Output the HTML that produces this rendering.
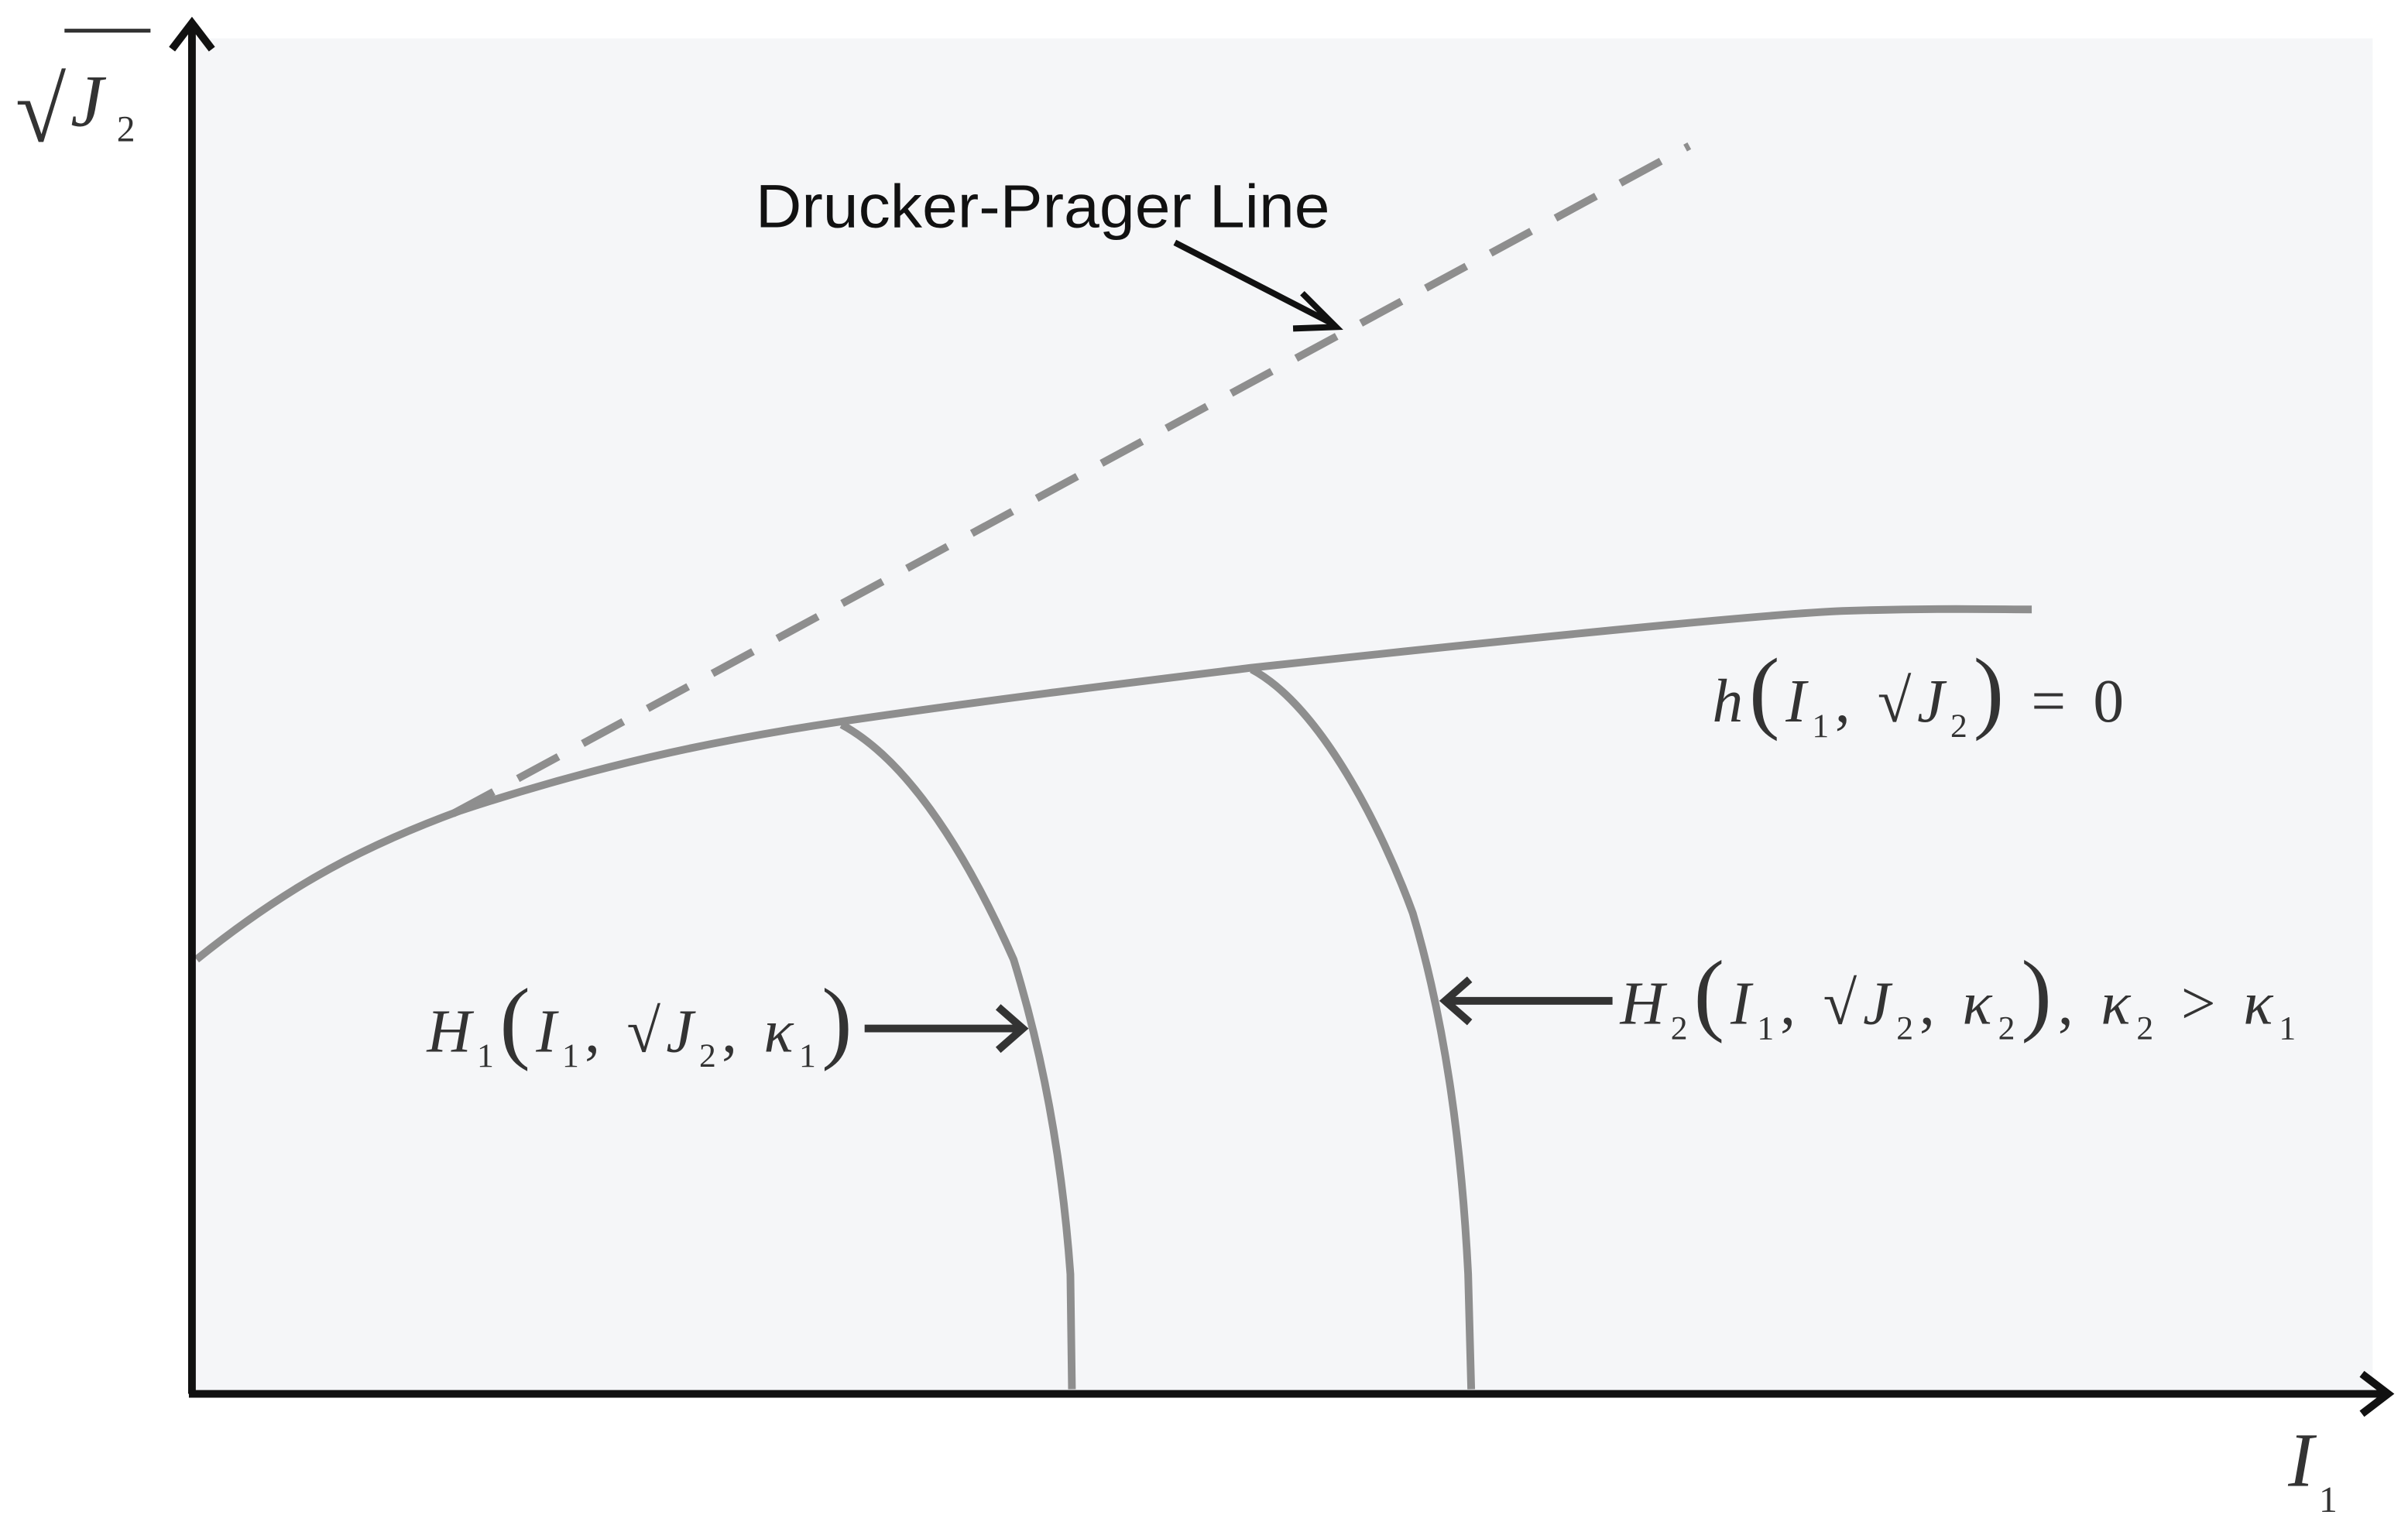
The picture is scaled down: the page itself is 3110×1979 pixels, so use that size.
<!DOCTYPE html>
<html><head><style>html,body{margin:0;padding:0;background:#fff}svg{display:block}</style></head>
<body>
<svg width="3110" height="1979" viewBox="0 0 1568 998" preserveAspectRatio="none" xmlns="http://www.w3.org/2000/svg">
<rect x="125" y="25" width="1420" height="883" fill="#f5f6f8"/>
<g fill="none" stroke="#8e8e8e" stroke-width="5" stroke-linecap="butt">
<path d="M295,530 L1100,95" stroke-dasharray="30,18"/>
<path d="M128,625 C190,575 240,550 300,528 C400,495 480,480 548,470 C650,455 750,443 815,435 C1000,415 1150,400 1200,398 C1260,396 1300,397 1323,397"/>
<path d="M548,472 C600,500 640,580 660,625 C680,690 692,760 697,830 L698,905"/>
<path d="M815,436 C860,460 900,540 920,595 C942,670 952,750 956,830 L958,905"/>
</g>
<g stroke="#111" stroke-width="5" fill="none">
<path d="M125,908 L125,18"/><path d="M123,908 L1553,908"/>
<path d="M112,32 L125,15 L138,32"/><path d="M1538,895 L1555,908 L1538,921"/>
</g>
<g stroke="#111" stroke-width="4" fill="none">
<path d="M765,158 L866,210"/><path d="M848,191 L870,213 L842,214"/>
</g>
<g stroke="#333" stroke-width="5" fill="none">
<path d="M563,670 L664,670"/><path d="M650,656 L666,670 L650,684"/>
<path d="M1050,652 L943,652"/><path d="M957,638 L941,652 L957,666"/>
</g>
<g font-family="Liberation Sans, sans-serif" fill="#111">
<text x="492" y="148" font-size="40" textLength="374" lengthAdjust="spacingAndGlyphs">Drucker-Prager Line</text>
</g>
<g font-family="Liberation Serif, serif" fill="#333" font-style="italic">
<text x="10" y="92" font-size="60" font-style="normal">√</text>
<line x1="42" y1="20" x2="98" y2="20" stroke="#333" stroke-width="2.5"/>
<text x="46" y="82" font-size="48">J</text><text x="76" y="92" font-size="24" font-style="normal">2</text>
<text x="1490" y="968" font-size="50">I</text><text x="1510" y="985" font-size="24" font-style="normal">1</text>
<text x="1115" y="470" font-size="40" textLength="268" lengthAdjust="spacing">h<tspan font-style="normal" font-size="60">(</tspan>I<tspan font-size="22" font-style="normal" dy="10">1</tspan><tspan dy="-10" font-style="normal">, √</tspan>J<tspan font-size="22" font-style="normal" dy="10">2</tspan><tspan dy="-10" font-style="normal" font-size="60">)</tspan><tspan font-style="normal"> = 0</tspan></text>
<text x="278" y="685" font-size="40" textLength="277" lengthAdjust="spacing">H<tspan font-size="22" font-style="normal" dy="10">1</tspan><tspan dy="-10" font-style="normal" font-size="60">(</tspan>I<tspan font-size="22" font-style="normal" dy="10">1</tspan><tspan dy="-10" font-style="normal">, √</tspan>J<tspan font-size="22" font-style="normal" dy="10">2</tspan><tspan dy="-10" font-style="normal">, </tspan>κ<tspan font-size="22" font-style="normal" dy="10">1</tspan><tspan dy="-10" font-style="normal" font-size="60">)</tspan></text>
<text x="1055" y="667" font-size="40" textLength="440" lengthAdjust="spacing">H<tspan font-size="22" font-style="normal" dy="10">2</tspan><tspan dy="-10" font-style="normal" font-size="60">(</tspan>I<tspan font-size="22" font-style="normal" dy="10">1</tspan><tspan dy="-10" font-style="normal">, √</tspan>J<tspan font-size="22" font-style="normal" dy="10">2</tspan><tspan dy="-10" font-style="normal">, </tspan>κ<tspan font-size="22" font-style="normal" dy="10">2</tspan><tspan dy="-10" font-style="normal" font-size="60">)</tspan><tspan font-style="normal">, </tspan>κ<tspan font-size="22" font-style="normal" dy="10">2</tspan><tspan dy="-10" font-style="normal"> &gt; </tspan>κ<tspan font-size="22" font-style="normal" dy="10">1</tspan></text>
</g>
</svg>
</body></html>
